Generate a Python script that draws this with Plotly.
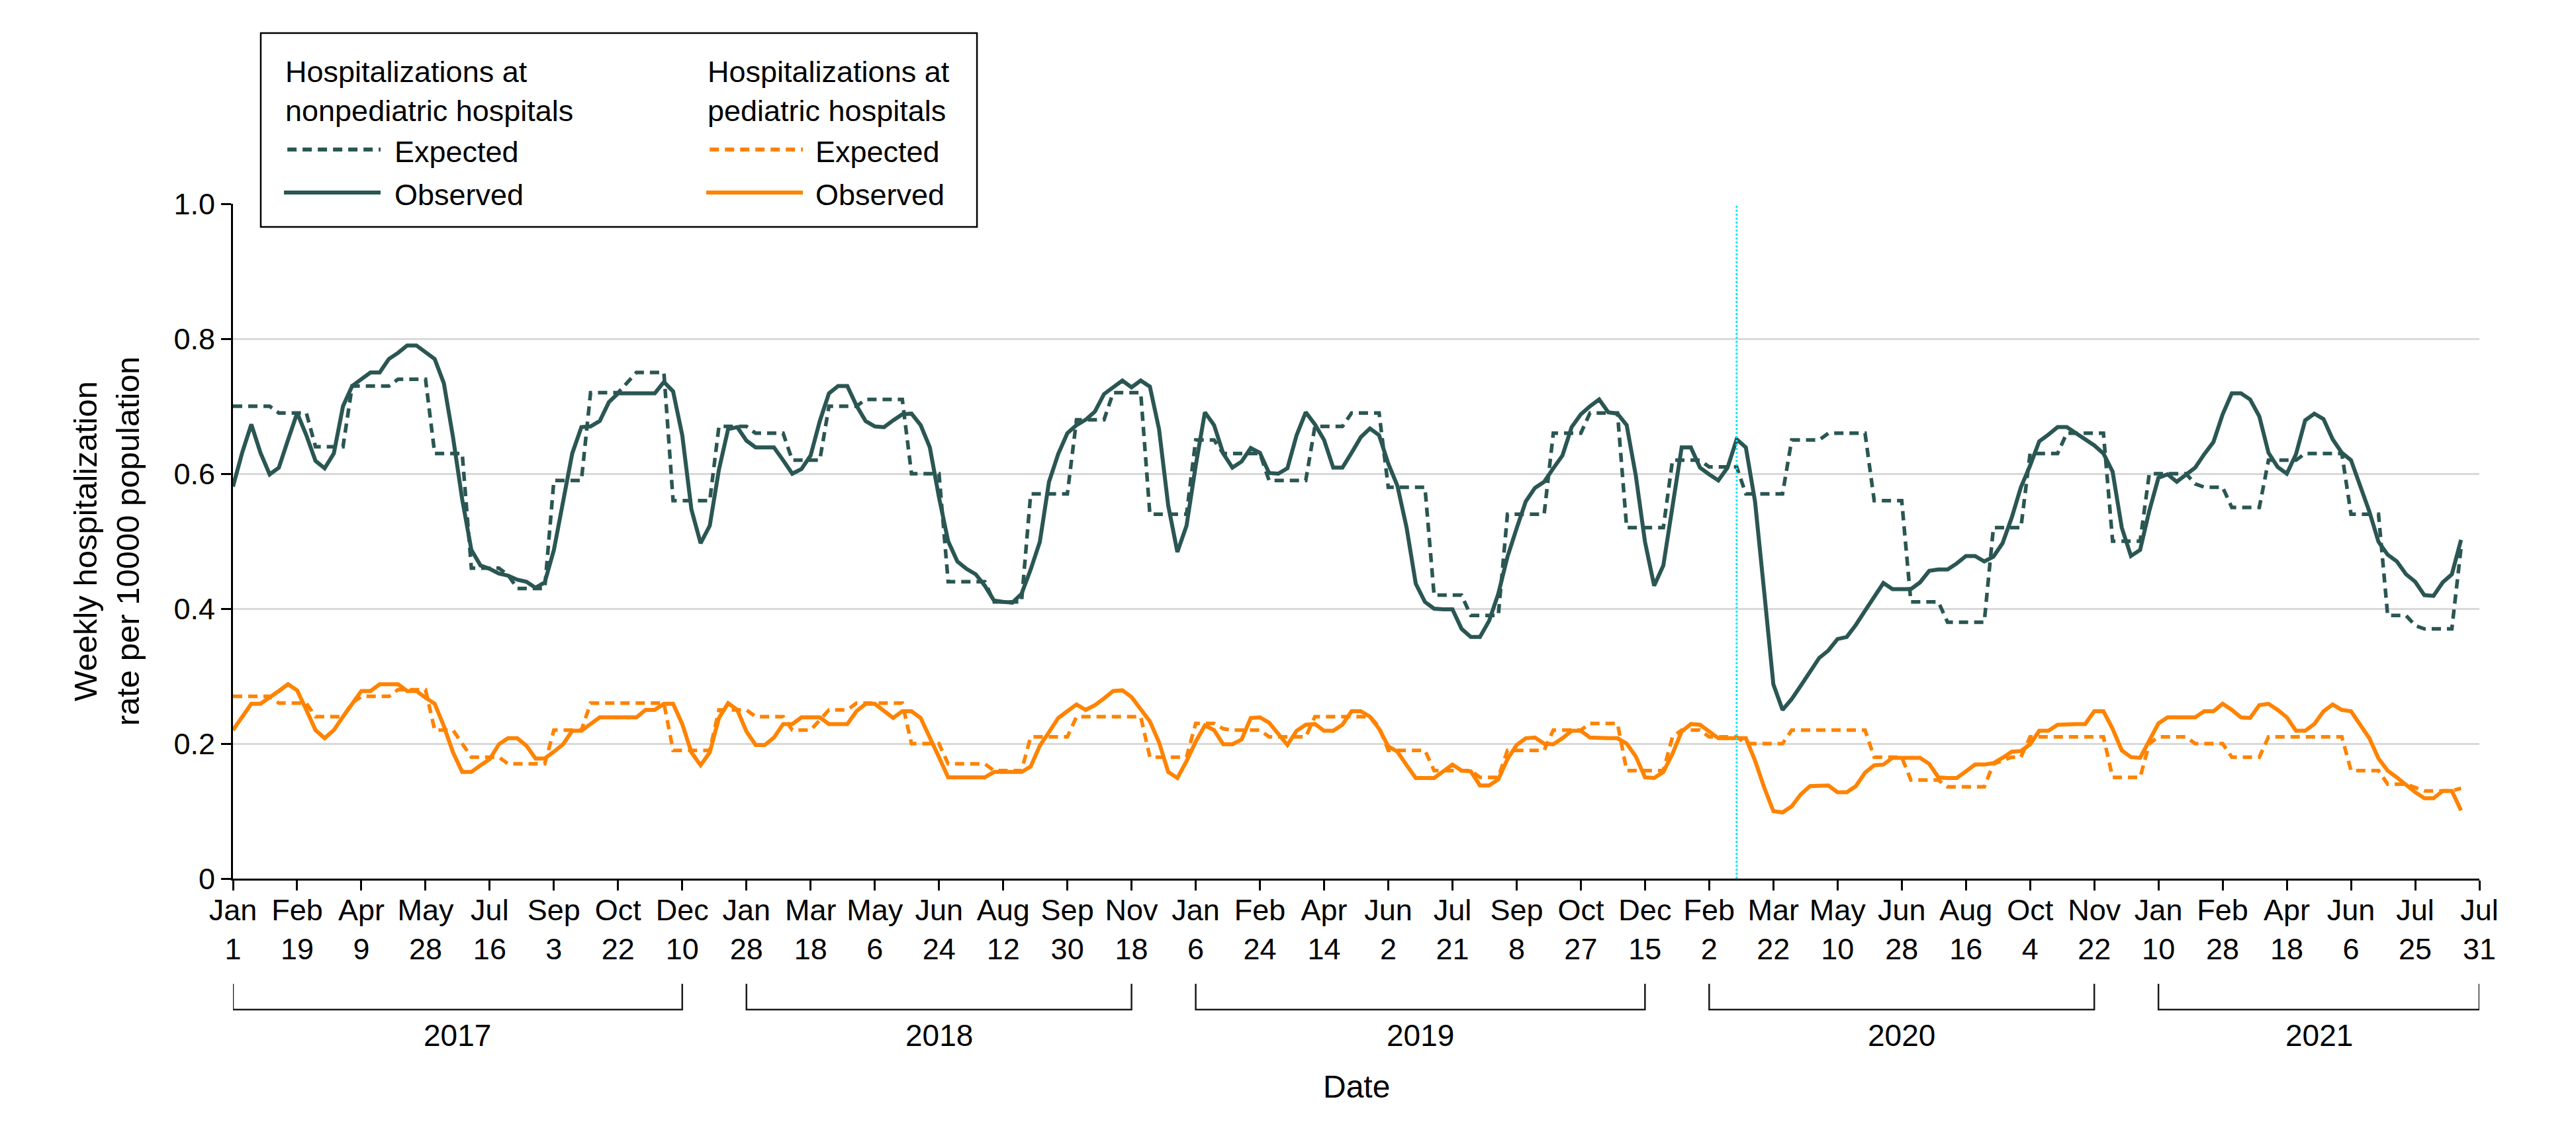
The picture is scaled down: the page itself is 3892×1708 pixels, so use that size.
import plotly.graph_objects as go

# ---------------- data (weekly, week index 0 = Jan 1, 2017) ----------------
obs_nonped = [
    0.581, 0.631, 0.673, 0.631, 0.599, 0.609, 0.650, 0.690, 0.657, 0.619,
    0.608, 0.630, 0.700, 0.730, 0.740, 0.750, 0.750, 0.770, 0.779, 0.790,
    0.790, 0.780, 0.770, 0.734, 0.654, 0.562, 0.487, 0.464, 0.459, 0.452,
    0.449, 0.443, 0.440, 0.431, 0.439, 0.487, 0.559, 0.630, 0.669, 0.670,
    0.678, 0.706, 0.719, 0.719, 0.719, 0.719, 0.719, 0.736, 0.722, 0.657,
    0.547, 0.497, 0.523, 0.606, 0.666, 0.669, 0.649, 0.639, 0.639, 0.639,
    0.620, 0.600, 0.607, 0.627, 0.678, 0.719, 0.730, 0.730, 0.701, 0.678,
    0.670, 0.669, 0.679, 0.688, 0.689, 0.672, 0.639, 0.565, 0.500, 0.470,
    0.459, 0.451, 0.434, 0.412, 0.410, 0.409, 0.422, 0.458, 0.499, 0.588,
    0.629, 0.660, 0.672, 0.680, 0.692, 0.718, 0.728, 0.738, 0.728, 0.738,
    0.729, 0.666, 0.553, 0.484, 0.523, 0.612, 0.691, 0.672, 0.630, 0.609,
    0.618, 0.638, 0.631, 0.601, 0.600, 0.608, 0.657, 0.691, 0.673, 0.650,
    0.609, 0.609, 0.631, 0.654, 0.667, 0.657, 0.615, 0.582, 0.520, 0.437,
    0.410, 0.400, 0.399, 0.399, 0.370, 0.358, 0.358, 0.382, 0.422, 0.477,
    0.519, 0.559, 0.579, 0.588, 0.608, 0.627, 0.669, 0.688, 0.700, 0.710,
    0.691, 0.689, 0.672, 0.597, 0.499, 0.434, 0.464, 0.547, 0.639, 0.639,
    0.609, 0.599, 0.590, 0.609, 0.651, 0.639, 0.559, 0.425, 0.288, 0.250,
    0.266, 0.286, 0.306, 0.327, 0.338, 0.355, 0.358, 0.376, 0.397, 0.417,
    0.438, 0.429, 0.429, 0.429, 0.439, 0.456, 0.458, 0.458, 0.467, 0.478,
    0.478, 0.470, 0.477, 0.497, 0.535, 0.580, 0.612, 0.648, 0.658, 0.669,
    0.669, 0.660, 0.651, 0.642, 0.630, 0.603, 0.520, 0.478, 0.487, 0.545,
    0.594, 0.599, 0.588, 0.599, 0.609, 0.629, 0.647, 0.688, 0.719, 0.719,
    0.710, 0.685, 0.631, 0.610, 0.600, 0.629, 0.679, 0.689, 0.681, 0.651,
    0.631, 0.620, 0.584, 0.544, 0.499, 0.480, 0.470, 0.451, 0.440, 0.420,
    0.419, 0.439, 0.451, 0.502,
]

exp_nonped = [
    0.70, 0.70, 0.70, 0.70, 0.70, 0.69, 0.69, 0.69, 0.69, 0.64,
    0.64, 0.64, 0.64, 0.73, 0.73, 0.73, 0.73, 0.73, 0.74, 0.74,
    0.74, 0.74, 0.63, 0.63, 0.63, 0.63, 0.46, 0.46, 0.46, 0.46,
    0.45, 0.43, 0.43, 0.43, 0.43, 0.59, 0.59, 0.59, 0.59, 0.72,
    0.72, 0.72, 0.72, 0.735, 0.75, 0.75, 0.75, 0.75, 0.56, 0.56,
    0.56, 0.56, 0.56, 0.67, 0.67, 0.67, 0.67, 0.66, 0.66, 0.66,
    0.66, 0.62, 0.62, 0.62, 0.62, 0.70, 0.70, 0.70, 0.70, 0.71,
    0.71, 0.71, 0.71, 0.71, 0.60, 0.60, 0.60, 0.60, 0.44, 0.44,
    0.44, 0.44, 0.44, 0.41, 0.41, 0.41, 0.41, 0.57, 0.57, 0.57,
    0.57, 0.57, 0.68, 0.68, 0.68, 0.68, 0.72, 0.72, 0.72, 0.72,
    0.54, 0.54, 0.54, 0.54, 0.54, 0.65, 0.65, 0.65, 0.63, 0.63,
    0.63, 0.63, 0.63, 0.59, 0.59, 0.59, 0.59, 0.59, 0.67, 0.67,
    0.67, 0.67, 0.69, 0.69, 0.69, 0.69, 0.58, 0.58, 0.58, 0.58,
    0.58, 0.42, 0.42, 0.42, 0.42, 0.39, 0.39, 0.39, 0.39, 0.54,
    0.54, 0.54, 0.54, 0.54, 0.66, 0.66, 0.66, 0.66, 0.69, 0.69,
    0.69, 0.69, 0.52, 0.52, 0.52, 0.52, 0.52, 0.62, 0.62, 0.62,
    0.62, 0.61, 0.61, 0.61, 0.61, 0.57, 0.57, 0.57, 0.57, 0.57,
    0.65, 0.65, 0.65, 0.65, 0.66, 0.66, 0.66, 0.66, 0.66, 0.56,
    0.56, 0.56, 0.56, 0.41, 0.41, 0.41, 0.41, 0.38, 0.38, 0.38,
    0.38, 0.38, 0.52, 0.52, 0.52, 0.52, 0.63, 0.63, 0.63, 0.63,
    0.66, 0.66, 0.66, 0.66, 0.66, 0.50, 0.50, 0.50, 0.50, 0.60,
    0.60, 0.60, 0.60, 0.60, 0.585, 0.58, 0.58, 0.58, 0.55, 0.55,
    0.55, 0.55, 0.62, 0.62, 0.62, 0.62, 0.63, 0.63, 0.63, 0.63,
    0.63, 0.54, 0.54, 0.54, 0.54, 0.39, 0.39, 0.39, 0.375, 0.37,
    0.37, 0.37, 0.37, 0.49,
]

obs_ped = [
    0.220, 0.240, 0.259, 0.259, 0.268, 0.278, 0.288, 0.279, 0.250, 0.220,
    0.208, 0.220, 0.240, 0.259, 0.278, 0.278, 0.288, 0.288, 0.288, 0.278,
    0.278, 0.268, 0.259, 0.226, 0.187, 0.158, 0.158, 0.168, 0.177, 0.199,
    0.208, 0.208, 0.197, 0.178, 0.178, 0.188, 0.199, 0.219, 0.219, 0.229,
    0.239, 0.239, 0.239, 0.239, 0.239, 0.250, 0.250, 0.259, 0.259, 0.229,
    0.187, 0.168, 0.187, 0.238, 0.260, 0.250, 0.218, 0.198, 0.198, 0.209,
    0.229, 0.229, 0.239, 0.239, 0.239, 0.229, 0.229, 0.229, 0.248, 0.259,
    0.259, 0.248, 0.238, 0.248, 0.248, 0.238, 0.210, 0.180, 0.150, 0.150,
    0.150, 0.150, 0.150, 0.158, 0.158, 0.158, 0.158, 0.166, 0.197, 0.217,
    0.238, 0.248, 0.258, 0.250, 0.257, 0.267, 0.278, 0.279, 0.269, 0.251,
    0.233, 0.202, 0.158, 0.149, 0.174, 0.203, 0.227, 0.220, 0.199, 0.199,
    0.206, 0.238, 0.239, 0.231, 0.214, 0.198, 0.219, 0.228, 0.229, 0.219,
    0.219, 0.228, 0.248, 0.248, 0.240, 0.222, 0.196, 0.188, 0.168, 0.149,
    0.149, 0.149, 0.159, 0.169, 0.160, 0.159, 0.138, 0.138, 0.147, 0.177,
    0.198, 0.208, 0.209, 0.200, 0.199, 0.208, 0.219, 0.219, 0.209, 0.208,
    0.208, 0.208, 0.200, 0.181, 0.150, 0.149, 0.158, 0.185, 0.218, 0.229,
    0.228, 0.218, 0.208, 0.208, 0.208, 0.208, 0.175, 0.135, 0.100, 0.098,
    0.107, 0.125, 0.137, 0.138, 0.138, 0.128, 0.128, 0.137, 0.157, 0.168,
    0.169, 0.179, 0.179, 0.179, 0.179, 0.170, 0.150, 0.149, 0.149, 0.159,
    0.169, 0.169, 0.171, 0.179, 0.188, 0.189, 0.199, 0.219, 0.219, 0.228,
    0.229, 0.229, 0.229, 0.248, 0.248, 0.222, 0.190, 0.180, 0.179, 0.204,
    0.230, 0.239, 0.239, 0.239, 0.239, 0.248, 0.248, 0.259, 0.250, 0.239,
    0.238, 0.257, 0.259, 0.250, 0.239, 0.219, 0.219, 0.229, 0.248, 0.258,
    0.250, 0.248, 0.227, 0.208, 0.178, 0.160, 0.150, 0.139, 0.128, 0.119,
    0.119, 0.130, 0.130, 0.101,
]

exp_ped = [
    0.27, 0.27, 0.27, 0.27, 0.27, 0.26, 0.26, 0.26, 0.26, 0.24,
    0.24, 0.24, 0.24, 0.26, 0.27, 0.27, 0.27, 0.27, 0.28, 0.28,
    0.28, 0.28, 0.22, 0.22, 0.22, 0.20, 0.18, 0.18, 0.18, 0.18,
    0.17, 0.17, 0.17, 0.17, 0.17, 0.22, 0.22, 0.22, 0.22, 0.26,
    0.26, 0.26, 0.26, 0.26, 0.26, 0.26, 0.26, 0.26, 0.19, 0.19,
    0.19, 0.19, 0.19, 0.25, 0.25, 0.25, 0.25, 0.24, 0.24, 0.24,
    0.24, 0.22, 0.22, 0.22, 0.235, 0.25, 0.25, 0.25, 0.26, 0.26,
    0.26, 0.26, 0.26, 0.26, 0.20, 0.20, 0.20, 0.20, 0.17, 0.17,
    0.17, 0.17, 0.17, 0.16, 0.16, 0.16, 0.16, 0.21, 0.21, 0.21,
    0.21, 0.21, 0.24, 0.24, 0.24, 0.24, 0.24, 0.24, 0.24, 0.24,
    0.18, 0.18, 0.18, 0.18, 0.18, 0.23, 0.23, 0.23, 0.222, 0.22,
    0.22, 0.22, 0.22, 0.21, 0.21, 0.21, 0.21, 0.21, 0.24, 0.24,
    0.24, 0.24, 0.24, 0.24, 0.24, 0.225, 0.19, 0.19, 0.19, 0.19,
    0.19, 0.16, 0.16, 0.16, 0.16, 0.16, 0.15, 0.15, 0.15, 0.19,
    0.19, 0.19, 0.19, 0.19, 0.22, 0.22, 0.22, 0.22, 0.23, 0.23,
    0.23, 0.23, 0.16, 0.16, 0.16, 0.16, 0.16, 0.21, 0.22, 0.22,
    0.22, 0.21, 0.21, 0.21, 0.21, 0.20, 0.20, 0.20, 0.20, 0.20,
    0.22, 0.22, 0.22, 0.22, 0.22, 0.22, 0.22, 0.22, 0.22, 0.18,
    0.18, 0.18, 0.18, 0.146, 0.146, 0.146, 0.146, 0.136, 0.136, 0.136,
    0.136, 0.136, 0.17, 0.175, 0.18, 0.18, 0.21, 0.21, 0.21, 0.21,
    0.21, 0.21, 0.21, 0.21, 0.21, 0.15, 0.15, 0.15, 0.15, 0.20,
    0.21, 0.21, 0.21, 0.21, 0.20, 0.20, 0.20, 0.20, 0.18, 0.18,
    0.18, 0.18, 0.21, 0.21, 0.21, 0.21, 0.21, 0.21, 0.21, 0.21,
    0.21, 0.16, 0.16, 0.16, 0.16, 0.14, 0.14, 0.14, 0.135, 0.13,
    0.13, 0.13, 0.13, 0.134,
]

tick_labels = [
    "Jan<br>1", "Feb<br>19", "Apr<br>9", "May<br>28", "Jul<br>16", "Sep<br>3", "Oct<br>22", "Dec<br>10",
    "Jan<br>28", "Mar<br>18", "May<br>6", "Jun<br>24", "Aug<br>12", "Sep<br>30", "Nov<br>18",
    "Jan<br>6", "Feb<br>24", "Apr<br>14", "Jun<br>2", "Jul<br>21", "Sep<br>8", "Oct<br>27", "Dec<br>15",
    "Feb<br>2", "Mar<br>22", "May<br>10", "Jun<br>28", "Aug<br>16", "Oct<br>4", "Nov<br>22",
    "Jan<br>10", "Feb<br>28", "Apr<br>18", "Jun<br>6", "Jul<br>25", "Jul<br>31",
]
tick_step_weeks = 7
year_labels = ["2017", "2018", "2019", "2020", "2021"]
year_tick_spans = [(0, 7), (8, 14), (15, 22), (23, 29), (30, 35)]  # first/last tick index of each year
y_ticks = [0, 0.2, 0.4, 0.6, 0.8, 1.0]
y_tick_text = ["0", "0.2", "0.4", "0.6", "0.8", "1.0"]
pandemic_week = 164

# ---------------- styling ----------------
TEAL = "#2A5653"
ORANGE = "#FF8300"
CYAN = "#00E8F8"
FONT = "Liberation Sans, Arial, sans-serif"
DASH = "14px,9px"

weeks = list(range(len(obs_nonped)))
tickvals = [i * tick_step_weeks for i in range(len(tick_labels))]

fig = go.Figure()
fig.add_trace(go.Scatter(x=weeks, y=exp_nonped, mode="lines", name="Expected (nonpediatric)",
                         line=dict(color=TEAL, width=5.5, dash=DASH)))
fig.add_trace(go.Scatter(x=weeks, y=exp_ped, mode="lines", name="Expected (pediatric)",
                         line=dict(color=ORANGE, width=5.5, dash=DASH)))
fig.add_trace(go.Scatter(x=weeks, y=obs_ped, mode="lines", name="Observed (pediatric)",
                         line=dict(color=ORANGE, width=6)))
fig.add_trace(go.Scatter(x=weeks, y=obs_nonped, mode="lines", name="Observed (nonpediatric)",
                         line=dict(color=TEAL, width=6)))

shapes = []
annotations = []

# vertical marker
shapes.append(dict(type="line", xref="x", yref="y", x0=pandemic_week, x1=pandemic_week, y0=0, y1=1,
                   line=dict(color=CYAN, width=3, dash="3px,3px"), layer="above"))

# year brackets below the axis
BR_TOP, BR_BOT, YEAR_Y = -0.1559, -0.1941, -0.2325
for label, (a, b) in zip(year_labels, year_tick_spans):
    xa, xb = tickvals[a], tickvals[b]
    shapes.append(dict(type="path", xref="x", yref="paper",
                       path=f"M {xa},{BR_TOP} L {xa},{BR_BOT} L {xb},{BR_BOT} L {xb},{BR_TOP}",
                       line=dict(color="#1a1a1a", width=2.5)))
    annotations.append(dict(xref="x", yref="paper", x=(xa + xb) / 2, y=YEAR_Y, text=label,
                            showarrow=False, xanchor="center", yanchor="middle",
                            font=dict(family=FONT, size=46, color="black")))

# x title
annotations.append(dict(xref="paper", yref="paper", x=0.5, y=-0.3085, text="Date", showarrow=False,
                        xanchor="center", yanchor="middle", font=dict(family=FONT, size=48, color="black")))
# y title
annotations.append(dict(xref="paper", yref="paper", x=-0.0562, y=0.5,
                        text="Weekly hospitalization<br>rate per 10000 population",
                        showarrow=False, textangle=-90, xanchor="center", yanchor="middle",
                        font=dict(family=FONT, size=49, color="black")))

# custom legend
shapes.append(dict(type="rect", xref="paper", yref="paper", x0=0.01237, x1=0.3312, y0=0.9657, y1=1.2529,
                   line=dict(color="black", width=2.5), fillcolor="white", layer="above"))
LEG_EXP_Y, LEG_OBS_Y = 1.0804, 1.0167
TXT_SHIFT = -0.003
legend_cols = [
    dict(color=TEAL, head="Hospitalizations at<br>nonpediatric hospitals", hx=0.0227, lx0=0.0227, lx1=0.0657, tx=0.0713),
    dict(color=ORANGE, head="Hospitalizations at<br>pediatric hospitals", hx=0.2107, lx0=0.2107, lx1=0.2537, tx=0.2587),
]
for col in legend_cols:
    shapes.append(dict(type="line", xref="paper", yref="paper", x0=col["lx0"] + 0.0015, x1=col["lx1"],
                       y0=LEG_EXP_Y, y1=LEG_EXP_Y, line=dict(color=col["color"], width=6, dash=DASH), layer="above"))
    shapes.append(dict(type="line", xref="paper", yref="paper", x0=col["lx0"], x1=col["lx1"],
                       y0=LEG_OBS_Y, y1=LEG_OBS_Y, line=dict(color=col["color"], width=6), layer="above"))
    annotations.append(dict(xref="paper", yref="paper", x=col["hx"], y=1.1670, text=col["head"],
                            showarrow=False, xanchor="left", yanchor="middle", align="left",
                            font=dict(family=FONT, size=45, color="black")))
    for txt, yy in (("Expected", LEG_EXP_Y), ("Observed", LEG_OBS_Y)):
        annotations.append(dict(xref="paper", yref="paper", x=col["tx"], y=yy + TXT_SHIFT, text=txt,
                                showarrow=False, xanchor="left", yanchor="middle",
                                font=dict(family=FONT, size=45, color="black")))

# page body adds an 8px offset; margins compensate so the plot area lands at x 352..3746, y 308..1328
fig.update_layout(
    width=3892, height=1708, autosize=False,
    margin=dict(l=344, r=154, t=300, b=388, pad=0),
    plot_bgcolor="white", paper_bgcolor="white",
    showlegend=False,
    shapes=shapes, annotations=annotations,
    xaxis=dict(range=[0, tickvals[-1]], tickmode="array", tickvals=tickvals, ticktext=tick_labels,
               showgrid=False, zeroline=False, showline=True, linecolor="black", linewidth=3,
               ticks="outside", ticklen=15, tickwidth=3, tickcolor="black", ticklabelstandoff=-9,
               tickfont=dict(family=FONT, size=45, color="black")),
    yaxis=dict(range=[0, 1], tickmode="array", tickvals=y_ticks, ticktext=y_tick_text,
               showgrid=True, gridcolor="#d9d9d9", gridwidth=3, zeroline=False,
               showline=True, linecolor="black", linewidth=3,
               ticks="outside", ticklen=15, tickwidth=3, tickcolor="black",
               tickfont=dict(family=FONT, size=45, color="black")),
)

fig.write_html("out.html")
